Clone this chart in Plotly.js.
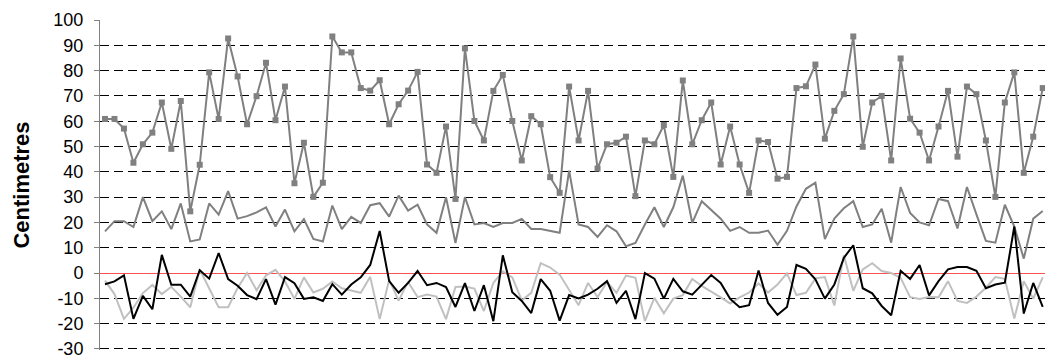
<!DOCTYPE html>
<html>
<head>
<meta charset="utf-8">
<script src="https://cdn.plot.ly/plotly-3.0.1.min.js"></script>
<style>html,body{margin:0;padding:0;background:#fff;}#chart{width:1045px;height:358px;}</style>
</head>
<body>
<div id="chart"></div>
<script>
const seriesA = [
60.9, 60.9, 57.1, 43.6, 50.9, 55.5, 67.4, 49.1, 68.0, 24.4,
42.8, 79.3, 60.9, 92.7, 77.7, 58.8, 69.9, 83.1, 60.4, 73.7,
35.5, 51.5, 30.1, 35.7, 93.5, 87.2, 87.2, 73.1, 72.1, 76.2,
58.8, 66.7, 72.1, 79.5, 42.9, 39.6, 57.9, 29.3, 88.8, 60.1,
52.4, 72.0, 78.3, 60.1, 44.5, 62.0, 58.8, 37.9, 31.7, 73.7,
52.4, 72.0, 41.3, 50.9, 51.5, 53.9, 30.4, 52.4, 50.9, 58.5,
38.0, 76.1, 50.9, 60.4, 67.4, 42.9, 57.9, 42.9, 31.7, 52.4,
51.8, 37.3, 38.0, 73.1, 73.8, 82.4, 53.1, 64.1, 70.7, 93.5,
49.9, 67.4, 70.0, 44.5, 84.8, 61.0, 55.5, 44.5, 57.9, 72.0,
46.0, 73.7, 70.7, 52.4, 30.1, 67.4, 79.3, 39.6, 53.9, 73.1
];
const seriesB = [
16.5, 20.5, 20.5, 18.2, 30.0, 20.5, 24.4, 17.4, 27.5, 12.5,
13.3, 27.5, 23.1, 32.4, 21.5, 22.5, 24.0, 26.0, 18.4, 25.1,
16.5, 21.3, 13.5, 12.5, 26.7, 17.4, 22.2, 19.8, 26.8, 27.6,
22.3, 30.6, 24.7, 27.0, 19.2, 15.9, 30.0, 11.9, 30.0, 19.2,
19.8, 18.2, 19.8, 19.8, 21.4, 17.4, 17.4, 16.8, 15.9, 40.5,
19.2, 18.2, 14.3, 18.9, 16.5, 10.6, 11.9, 19.2, 26.0, 18.2,
26.0, 38.5, 19.8, 28.4, 24.8, 21.5, 16.7, 18.2, 15.9, 15.9,
16.8, 11.2, 16.7, 26.3, 33.3, 35.7, 13.4, 21.5, 25.6, 28.4,
18.2, 19.2, 25.4, 12.0, 34.0, 23.8, 20.0, 18.9, 29.3, 28.4,
17.6, 34.0, 23.2, 12.7, 12.0, 27.0, 18.4, 5.7, 21.5, 24.5
];
const seriesC = [
-4.4, -3.3, -0.9, -18.1, -9.0, -14.3, 7.2, -4.6, -4.6, -9.3,
1.1, -2.2, 7.9, -2.4, -5.0, -8.7, -10.3, -2.4, -12.5, -1.6,
-4.0, -10.2, -9.6, -11.0, -4.4, -8.5, -4.5, -1.7, 3.2, 16.6,
-3.2, -7.8, -3.9, 0.8, -4.8, -3.9, -5.5, -13.4, -4.0, -15.0,
-4.8, -19.0, 7.0, -7.6, -11.0, -15.8, -2.4, -7.0, -18.8, -8.7,
-10.0, -8.5, -6.2, -3.2, -11.8, -7.0, -18.2, 0.0, -2.2, -10.1,
-2.3, -7.2, -8.5, -4.6, -0.8, -3.9, -10.2, -13.5, -12.7, 1.0,
-11.8, -16.5, -13.4, 3.2, 1.7, -2.5, -10.1, -4.5, 6.0, 11.0,
-6.0, -8.0, -13.0, -16.7, 0.9, -2.3, 3.2, -8.8, -3.2, 1.5,
2.4, 2.4, 0.9, -6.0, -4.5, -3.8, 18.4, -16.0, -3.9, -13.4
];
const seriesD = [
-3.0, -8.3, -18.1, -13.7, -7.9, -4.7, -8.3, -5.4, -9.3, -13.5,
1.4, -6.3, -13.5, -13.5, -5.9, 0.0, -6.8, -0.9, 1.3, -3.3,
-10.2, -1.7, -7.7, -6.2, -3.3, -6.0, -6.8, -7.8, -1.5, -18.2,
-2.6, -10.9, -3.5, -9.5, -8.5, -9.3, -18.2, -5.5, -5.3, -6.1,
-15.0, -3.9, 0.7, -1.7, -10.8, -7.8, 3.9, 2.2, -0.6, -6.8,
-12.7, -3.9, -9.5, -3.5, -7.8, -1.0, -1.9, -19.0, -9.8, -15.9,
-10.1, -8.7, -2.3, -5.1, -7.2, -9.6, -12.0, -9.6, -7.7, -4.1,
-7.7, -4.5, -0.1, -8.7, -7.8, -2.1, -1.6, -12.8, 7.0, -7.0,
1.4, 3.9, 0.8, 0.0, -1.9, -9.5, -10.2, -9.5, -9.6, -3.2,
-11.0, -11.8, -9.3, -5.8, -1.6, -2.3, -18.0, -3.2, -10.1, -1.7
];
const yTicks = [-30, -20, -10, 0, 10, 20, 30, 40, 50, 60, 70, 80, 90, 100];
const yTitle = "Centimetres";

const xs = seriesA.map((_, i) => i);

const traces = [
  {x: xs, y: seriesB, type: 'scatter', mode: 'lines', line: {color: '#808080', width: 2}, hoverinfo: 'none'},
  {x: xs, y: seriesD, type: 'scatter', mode: 'lines', line: {color: '#c0c0c0', width: 2}, hoverinfo: 'none'},
  {x: xs, y: seriesC, type: 'scatter', mode: 'lines', line: {color: '#000000', width: 2}, hoverinfo: 'none'},
  {x: xs, y: seriesA, type: 'scatter', mode: 'lines+markers', line: {color: '#808080', width: 2},
   marker: {symbol: 'square', size: 6, color: '#808080'}, hoverinfo: 'none'}
];

const layout = {
  width: 1045, height: 358,
  margin: {l: 100, r: 0, t: 20, b: 8, pad: 0},
  paper_bgcolor: '#ffffff', plot_bgcolor: '#ffffff',
  showlegend: false,
  font: {family: '"Liberation Sans", Arial, sans-serif', color: '#000'},
  xaxis: {
    range: [-0.528, 99.24], showgrid: false, zeroline: false, showline: false,
    showticklabels: false, ticks: ''
  },
  yaxis: {
    range: [-30.4, 100], tickvals: yTicks, ticktext: yTicks.map(String),
    showgrid: true, gridcolor: '#000000', gridwidth: 1, griddash: '9px,5px',
    zeroline: true, zerolinecolor: '#ff5050', zerolinewidth: 1,
    showline: true, linecolor: '#808080', linewidth: 1,
    ticks: 'outside', ticklen: 5, tickcolor: '#808080', tickwidth: 1,
    tickfont: {size: 18, color: '#000'},
    ticklabelstandoff: 7,
    ticklabeloverflow: 'allow',
    title: {text: yTitle, font: {size: 22, color: '#000', weight: 'bold'}, standoff: 17}
  }
};

Plotly.newPlot('chart', traces, layout, {staticPlot: true, displayModeBar: false});
</script>
</body>
</html>
